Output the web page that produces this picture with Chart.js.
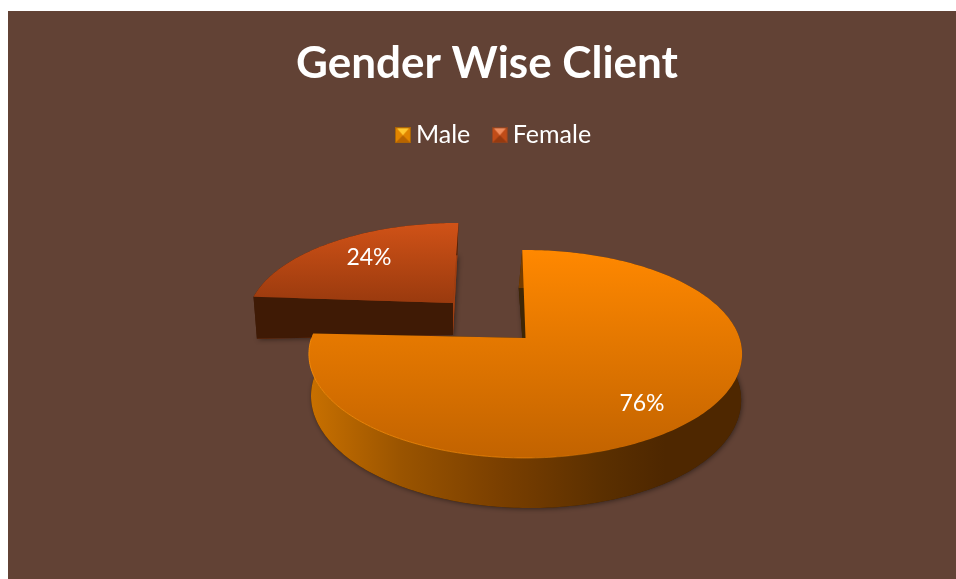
<!DOCTYPE html>
<html>
<head>
<meta charset="utf-8">
<style>html,body{margin:0;padding:0;background:#fff}canvas{display:block}</style>
<script src="https://cdn.jsdelivr.net/npm/chart.js@4/dist/chart.umd.js"></script>
</head>
<body>
<canvas id="c" width="956" height="579"></canvas>
<script>
const chartTitle = "Gender Wise Client";
const categories = ["Male", "Female"];
const shares = [76, 24];
const shareLabels = ["76%", "24%"];

const BG = "#624235";
const FONT = "Lato, Carlito, Calibri, sans-serif";

// Perspective faces for the 3D look (style only; angles come from the library's arcs)
const looks = [
  { top: {cx:525.5, cy:338, rx:214, ry:101.5, p:0.154, skx:0, sky:0},
    bot: {cx:525.5, cy:383, rx:213, ry:108, p:0.136, skx:4, sky:0},
    topStops: [[0,"#ff8800"],[1,"#c26300"]], topY:[250,458],
    wallStops: [[0,"#c87000"],[0.21,"#9a5400"],[0.44,"#7a3f00"],[0.68,"#5a2f00"],[0.82,"#4e2700"],[1,"#4e2700"]], wallX:[310,743],
    startWall:"#3d2606", endWall:"#3d2606", under:"#3b2000",
    rimStops: [[0,"rgba(245,140,10,0.9)"],[0.5,"rgba(245,140,10,0.6)"],[0.72,"rgba(245,140,10,0)"],[1,"rgba(245,140,10,0)"]],
    label:[642,403.5] },
  { top: {cx:453, cy:303, rx:201.5, ry:92, p:0.15, skx:-9.8, sky:2},
    bot: {cx:453, cy:335, rx:198, ry:92, p:0.15, skx:-8.5, sky:-8},
    topStops: [[0,"#d05217"],[1,"#9a3a0e"]], topY:[223,303],
    wallStops: [[0,"#3f1a05"],[1,"#3f1a05"]], wallX:[253,458],
    startWall:"#3f1a05", endWall:"#a03e10", under:"#8f3810", rimStops:null,
    label:[369,257.5] }
];

function pt(f, a, r) {
  const u = Math.cos(a) * r, v = Math.sin(a) * r;
  const s = 1 / (1 - f.p * v);
  return [f.cx + (f.rx * u + f.skx * v) * s, f.cy + (f.ry * v + f.sky * u) * s];
}
function arcPts(f, a0, a1) {
  const out = [], n = Math.max(2, Math.ceil((a1 - a0) / (Math.PI / 180)));
  for (let i = 0; i <= n; i++) out.push(pt(f, a0 + (a1 - a0) * i / n, 1));
  return out;
}
function poly(ctx, pts) {
  ctx.beginPath();
  pts.forEach((p, i) => i ? ctx.lineTo(p[0], p[1]) : ctx.moveTo(p[0], p[1]));
  ctx.closePath();
}
function grad(ctx, x0, y0, x1, y1, stops) {
  const g = ctx.createLinearGradient(x0, y0, x1, y1);
  stops.forEach(s => g.addColorStop(s[0], s[1]));
  return g;
}
function drawSlice(ctx, arc, look) {
  const {startAngle: a0, endAngle: a1} = arc.getProps(["startAngle", "endAngle"], true);
  const T = look.top, B = look.bot;
  const topArc = arcPts(T, a0, a1), botArc = arcPts(B, a0, a1);
  const tA = [T.cx, T.cy], bA = [B.cx, B.cy];

  ctx.save();
  ctx.shadowColor = "rgba(0,0,0,0.45)";
  ctx.shadowBlur = 5;
  ctx.shadowOffsetX = 1;
  ctx.shadowOffsetY = 1;
  ctx.fillStyle = look.under;
  poly(ctx, [bA].concat(botArc));
  ctx.fill();
  ctx.restore();

  ctx.fillStyle = look.startWall;
  poly(ctx, [tA, topArc[0], botArc[0], bA]);
  ctx.fill();
  ctx.fillStyle = look.endWall;
  poly(ctx, [tA, topArc[topArc.length - 1], botArc[botArc.length - 1], bA]);
  ctx.fill();

  ctx.fillStyle = grad(ctx, look.wallX[0], 0, look.wallX[1], 0, look.wallStops);
  poly(ctx, topArc.concat(botArc.slice().reverse()));
  ctx.fill();

  ctx.fillStyle = grad(ctx, 0, look.topY[0], 0, look.topY[1], look.topStops);
  poly(ctx, [tA].concat(topArc));
  ctx.fill();

  if (look.rimStops) {
    ctx.strokeStyle = grad(ctx, look.wallX[0], 0, look.wallX[1], 0, look.rimStops);
    ctx.lineWidth = 1;
    ctx.beginPath();
    topArc.forEach((p, i) => {
      const a = a0 + (a1 - a0) * i / (topArc.length - 1);
      if (Math.sin(a) > 0) ctx.lineTo(p[0], p[1]);
    });
    ctx.stroke();
  }
}

function marker(base, hi, low, edge) {
  const c = document.createElement("canvas");
  c.width = c.height = 16;
  const x = c.getContext("2d");
  x.fillStyle = edge; x.fillRect(0, 0, 16, 16);
  const tri = (col, pts) => { x.fillStyle = col; x.beginPath(); pts.forEach((p,i)=> i? x.lineTo(p[0],p[1]) : x.moveTo(p[0],p[1])); x.closePath(); x.fill(); };
  tri(base, [[1,1],[15,1],[15,15],[1,15]]);
  tri(hi, [[2,1],[14,1],[8,8]]);
  tri(low, [[1,15],[15,15],[8,8]]);
  return c;
}
const markers = [
  marker("#e08400", "#ffc62e", "#b86400", "#a86408"),
  marker("#c04c18", "#f08c5c", "#963a10", "#8a4424")
];

const scene = {
  id: "scene",
  beforeDraw(chart) {
    const ctx = chart.ctx;
    ctx.save();
    ctx.fillStyle = BG;
    ctx.fillRect(8, 11, 948, 568);
    ctx.restore();
  },
  afterLayout(chart) {
    chart.legend.left += 9.75;
    chart.legend.right += 9.75;
  },
  beforeDatasetsDraw(chart) {
    const ctx = chart.ctx, arcs = chart.getDatasetMeta(0).data;
    ctx.save();
    [1, 0].forEach(i => drawSlice(ctx, arcs[i], looks[i]));
    ctx.fillStyle = "#fff";
    ctx.font = "23px " + FONT;
    ctx.textAlign = "center";
    ctx.textBaseline = "middle";
    arcs.forEach((a, i) => ctx.fillText(shareLabels[i], looks[i].label[0], looks[i].label[1]));
    ctx.restore();
    return false;
  }
};

new Chart(document.getElementById("c"), {
  type: "pie",
  plugins: [scene],
  data: {
    labels: categories,
    datasets: [{ data: shares, backgroundColor: ["#e67e00", "#b8481a"], borderWidth: 0 }]
  },
  options: {
    responsive: false,
    animation: false,
    rotation: -1,
    layout: { padding: { left: 18, top: 37 } },
    plugins: {
      tooltip: { enabled: false },
      title: {
        display: true,
        text: chartTitle,
        color: "#fff",
        font: { family: FONT, size: 44, weight: "bold" },
        padding: { top: 0, bottom: 4 }
      },
      legend: {
        position: "top",
        labels: {
          color: "#fff",
          font: { family: FONT, size: 25 },
          usePointStyle: true,
          boxWidth: 1,
          boxHeight: 16,
          padding: 29,
          generateLabels: () => categories.map((t, i) => ({
            text: t, pointStyle: markers[i], fontColor: "#fff",
            lineWidth: 0, strokeStyle: "transparent", fillStyle: "transparent", index: i
          }))
        }
      }
    }
  }
});
</script>
</body>
</html>
